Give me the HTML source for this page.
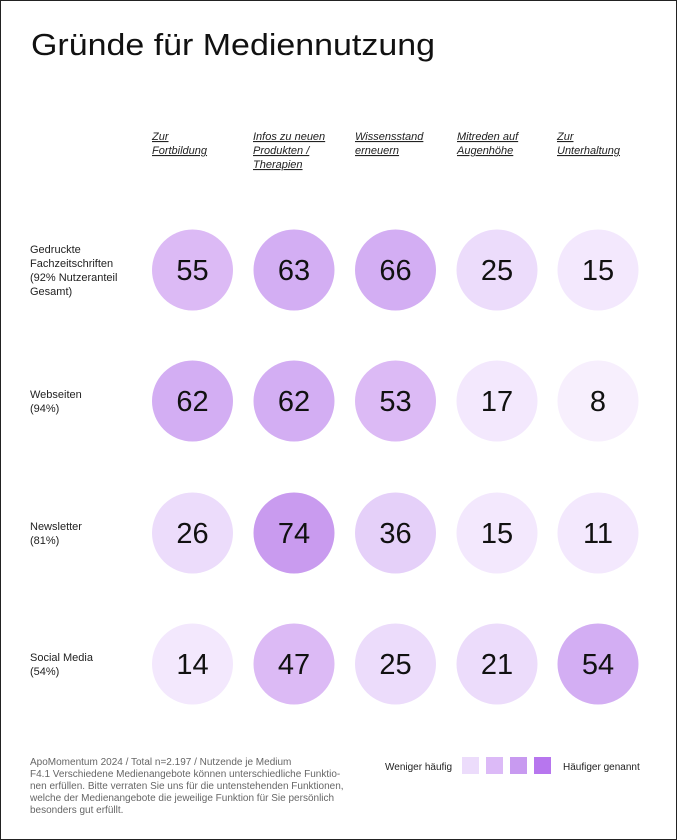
<!DOCTYPE html>
<html><head><meta charset="utf-8"><style>
html,body{margin:0;padding:0;background:#fff}
svg{display:block}
text{font-family:"Liberation Sans",sans-serif}
</style></head><body>
<svg width="677" height="840" viewBox="0 0 677 840" xmlns="http://www.w3.org/2000/svg">
<rect x="0.5" y="0.5" width="676" height="839" fill="#fff" stroke="#222" stroke-width="1"/>
<text x="31" y="55" font-size="31" fill="#111" textLength="404" lengthAdjust="spacingAndGlyphs">Gründe für Mediennutzung</text>
<g font-size="11" font-style="italic" fill="#222" text-decoration="underline">
<text x="152" y="140">Zur</text><text x="152" y="154">Fortbildung</text>
<text x="253" y="140">Infos zu neuen</text><text x="253" y="154">Produkten /</text><text x="253" y="168">Therapien</text>
<text x="355" y="140">Wissensstand</text><text x="355" y="154">erneuern</text>
<text x="457" y="140">Mitreden auf</text><text x="457" y="154">Augenhöhe</text>
<text x="557" y="140">Zur</text><text x="557" y="154">Unterhaltung</text>
</g>
<g font-size="11" fill="#222">
<text x="30" y="253">Gedruckte</text><text x="30" y="267">Fachzeitschriften</text><text x="30" y="281">(92% Nutzeranteil</text><text x="30" y="295">Gesamt)</text>
<text x="30" y="398">Webseiten</text><text x="30" y="412">(94%)</text>
<text x="30" y="530">Newsletter</text><text x="30" y="544">(81%)</text>
<text x="30" y="661">Social Media</text><text x="30" y="675">(54%)</text>
</g>
<g>
<circle cx="192.5" cy="270" r="40.5" fill="#dcbaf5"/><circle cx="294" cy="270" r="40.5" fill="#d3aef3"/><circle cx="395.5" cy="270" r="40.5" fill="#d3aef3"/><circle cx="497" cy="270" r="40.5" fill="#ecdcfb"/><circle cx="598" cy="270" r="40.5" fill="#f3e8fd"/>
<circle cx="192.5" cy="401" r="40.5" fill="#d3aef3"/><circle cx="294" cy="401" r="40.5" fill="#d3aef3"/><circle cx="395.5" cy="401" r="40.5" fill="#dcbaf5"/><circle cx="497" cy="401" r="40.5" fill="#f3e8fd"/><circle cx="598" cy="401" r="40.5" fill="#f7effd"/>
<circle cx="192.5" cy="533" r="40.5" fill="#ecdcfb"/><circle cx="294" cy="533" r="40.5" fill="#c99bef"/><circle cx="395.5" cy="533" r="40.5" fill="#e5d0f9"/><circle cx="497" cy="533" r="40.5" fill="#f3e8fd"/><circle cx="598" cy="533" r="40.5" fill="#f3e8fd"/>
<circle cx="192.5" cy="664" r="40.5" fill="#f3e8fd"/><circle cx="294" cy="664" r="40.5" fill="#dcbaf5"/><circle cx="395.5" cy="664" r="40.5" fill="#ecdcfb"/><circle cx="497" cy="664" r="40.5" fill="#ecdcfb"/><circle cx="598" cy="664" r="40.5" fill="#d3aef3"/>
</g>
<g font-size="29" fill="#111" text-anchor="middle">
<text x="192.5" y="280">55</text><text x="294" y="280">63</text><text x="395.5" y="280">66</text><text x="497" y="280">25</text><text x="598" y="280">15</text>
<text x="192.5" y="411">62</text><text x="294" y="411">62</text><text x="395.5" y="411">53</text><text x="497" y="411">17</text><text x="598" y="411">8</text>
<text x="192.5" y="543">26</text><text x="294" y="543">74</text><text x="395.5" y="543">36</text><text x="497" y="543">15</text><text x="598" y="543">11</text>
<text x="192.5" y="674">14</text><text x="294" y="674">47</text><text x="395.5" y="674">25</text><text x="497" y="674">21</text><text x="598" y="674">54</text>
</g>
<g font-size="10" fill="#666">
<text x="30" y="765">ApoMomentum 2024 / Total n=2.197 / Nutzende je Medium</text>
<text x="30" y="777">F4.1 Verschiedene Medienangebote können unterschiedliche Funktio-</text>
<text x="30" y="789">nen erfüllen. Bitte verraten Sie uns für die untenstehenden Funktionen,</text>
<text x="30" y="801">welche der Medienangebote die jeweilige Funktion für Sie persönlich</text>
<text x="30" y="813">besonders gut erfüllt.</text>
</g>
<text x="385" y="770" font-size="10" fill="#222">Weniger häufig</text>
<rect x="462" y="757" width="17" height="17" fill="#ecdcfb"/>
<rect x="486" y="757" width="17" height="17" fill="#dcbaf7"/>
<rect x="510" y="757" width="17" height="17" fill="#c89af0"/>
<rect x="534" y="757" width="17" height="17" fill="#b776ee"/>
<text x="563" y="770" font-size="10" fill="#222">Häufiger genannt</text>
</svg>
</body></html>
